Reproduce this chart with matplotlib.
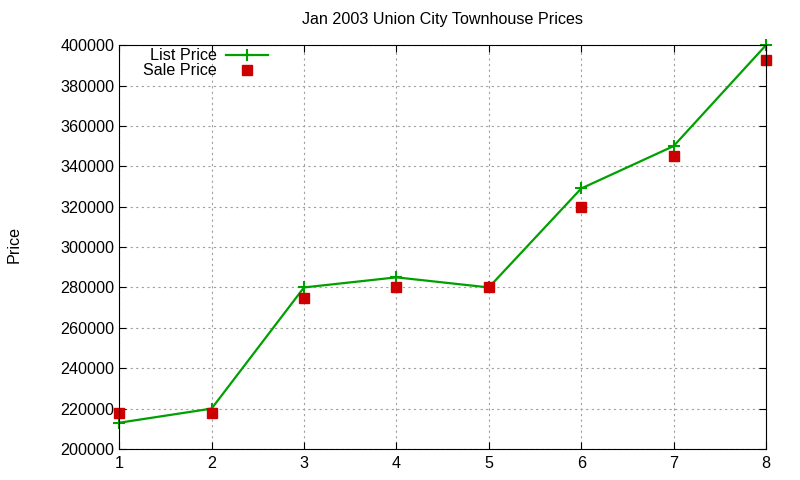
import matplotlib.pyplot as plt

# 数据
months = [1, 2, 3, 4, 5, 6, 7, 8]
list_price = [213000, 220000, 280000, 285000, 280000, 329000, 350000, 400000]
sale_price = [218000, 218000, 275000, 280000, 280000, 320000, 345000, 392500]

plt.rcParams['font.family'] = ['Liberation Sans', 'DejaVu Sans']

fig = plt.figure(figsize=(8, 4.8), dpi=100)
ax = fig.add_axes([0.149, 0.0646, 0.8085, 0.8414])

ax.plot(months, list_price, color='#00a000', linewidth=1.6, marker='+',
        markersize=8, markeredgewidth=1.5, label='List Price', clip_on=False)
ax.plot(months, sale_price, linestyle='none', color='#cc0000', marker='s',
        markersize=6.5, label='Sale Price', clip_on=False)

ax.set_xlim(1, 8)
ax.set_ylim(200000, 400000)
ax.set_xticks(months)
ax.set_yticks(range(200000, 400001, 20000))
ax.tick_params(direction='in', top=True, right=True, labelsize=11.6, length=5)
ax.tick_params(axis='x', pad=5)
ax.grid(True, color='#a0a0a0', linestyle=(0, (2, 3)), linewidth=0.8)

ax.set_title('Jan 2003 Union City Townhouse Prices', fontsize=11.6, pad=15)
fig.text(0.008, 0.49, 'Price', rotation=90, fontsize=11.6, va='center')

leg = ax.legend(loc='upper left', bbox_to_anchor=(0.014, 1.028), frameon=False,
                markerfirst=False, fontsize=11.6, handlelength=2.6,
                labelspacing=0.0, handletextpad=0.6)

plt.savefig('out.png', dpi=100)
plt.close()
